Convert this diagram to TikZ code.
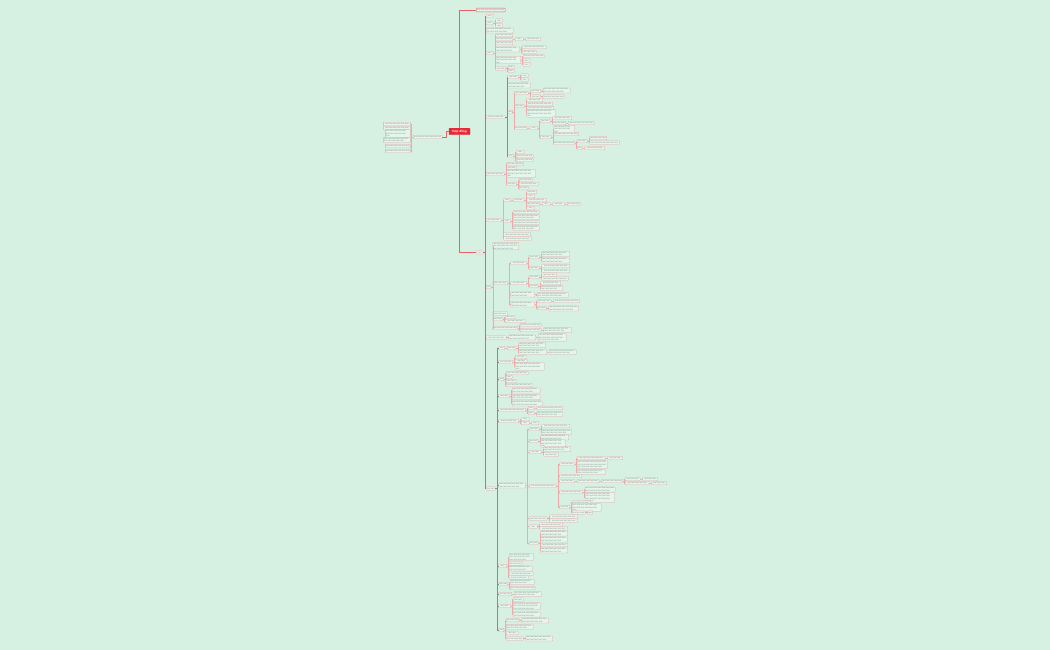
\documentclass[tikz,border=0pt]{standalone}
\usepackage{fontspec}
\setmainfont{Liberation Sans}
\definecolor{bg}{RGB}{214,241,226}
\definecolor{boxfill}{RGB}{228,246,236}
\definecolor{boxdraw}{RGB}{230,168,168}
\definecolor{txt}{RGB}{130,146,138}
\definecolor{redl}{RGB}{228,98,104}
\definecolor{pinkl}{RGB}{236,170,170}
\definecolor{greenl}{RGB}{120,150,130}
\definecolor{cred}{RGB}{232,40,52}
\tikzset{
 bx/.style={draw=boxdraw, fill=boxfill, line width=0.3pt, rounded corners=0.5pt,
   inner xsep=0.8pt, inner ysep=0.55pt, minimum height=3.6pt, anchor=west,
   text=txt, font=\fontsize{2.1pt}{2.45pt}\selectfont, align=left},
 cnode/.style={fill=cred, draw=cred, text=white, rounded corners=0.6pt,
   minimum width=21pt, minimum height=6.5pt, inner sep=0.8pt,
   font=\fontsize{3pt}{3.5pt}\selectfont\bfseries},
 lnr/.style={draw=redl, line width=0.4pt},
 lnp/.style={draw=pinkl, line width=0.3pt},
 lng/.style={draw=greenl, line width=0.35pt},
}
\newcommand\bxfill{\foreach\bxi in {1,...,\bxn}{text\ }\unskip}
\newcommand\bx[6][]{%
  \pgfmathtruncatemacro\bxcap{max(1,floor((#5-1.0)/4.0))}%
  \ifnum#6>1\relax
    \pgfmathtruncatemacro\bxn{max(1,#6*\bxcap-1)}%
    \pgfmathsetmacro\bxtw{#5-1.6}%
    \node[bx,text width=\bxtw pt,#1] (#2) at (#3,-#4) {\bxfill};%
  \else
    \edef\bxn{\bxcap}%
    \node[bx,minimum width=#5pt,#1] (#2) at (#3,-#4) {\bxfill};%
  \fi}
\newcommand\cns[3][lnp]{\foreach \cc in {#3}{\draw[#1] (#2.east) -- ++(1.4,0) |- (\cc.west);}}
\begin{document}
\begin{tikzpicture}[x=1pt,y=1pt]
\fill[bg] (0,0) rectangle (1050,-650);
\useasboundingbox (0,0) rectangle (1050,-650);

% centre
\node[cnode] (C) at (459.5,-131.5) {Hợp đồng};

% left branch
\bx{L}{413}{137}{29}{1}
\bx[anchor=east]{l1}{410.5}{124}{27}{1}
\bx[anchor=east]{l2}{410.5}{128}{27}{1}
\bx[anchor=east]{l3}{410.5}{133.5}{25}{2}
\bx[anchor=east]{l4}{410.5}{140}{27}{2}
\bx[anchor=east]{l5}{410.5}{146}{25}{1}
\bx[anchor=east]{l6}{410.5}{151}{25}{1}

% right level 1
\bx[draw=redl,line width=0.45pt]{T}{476}{10}{29}{1}
\bx{B}{476}{252.5}{7}{1}

% B children
\bx{b1}{486}{16}{7}{1}
\bx{b2}{486}{23}{7}{1}
\bx{b2a}{495.5}{20.5}{7}{1}
\bx{b2b}{495.5}{25.5}{7}{1}
\bx{b3}{486}{30.5}{27}{2}
\bx{b4}{486}{53}{7}{1}
\bx{c1}{495.5}{35}{17}{1}
\bx{c2}{495.5}{39}{17}{1}
\bx{c2a}{515}{39}{8}{1}
\bx{c2b}{525.5}{39}{15}{1}
\bx{c3}{495.5}{43}{17}{1}
\bx{c4}{495.5}{49.5}{24}{2}
\bx{c4a}{522}{47}{24}{1}
\bx{c4b}{522}{52}{14}{1}
\bx{c5}{495.5}{60}{25}{2}
\bx{c5a}{523}{56}{21}{1}
\bx{c5b}{523}{60.5}{7}{1}
\bx{c5c}{523}{64.5}{7}{1}
\bx{c6}{495.5}{68.5}{10}{1}
\bx{c6a}{508}{67}{6}{1}
\bx{c6b}{508}{71}{6}{1}

\bx{b5}{486}{117}{19}{1}
\bx{d1}{507.5}{77}{11}{1}
\bx{d1a}{521}{75.5}{7}{1}
\bx{d1b}{521}{79.5}{7}{1}
\bx{d2}{507.5}{85.5}{23}{2}
\bx{d3}{507.5}{112}{4}{1}
\bx{e1}{514}{93}{14}{1}
\bx{e1a}{530.5}{91}{10}{1}
\bx{e1a1}{543}{90.5}{27}{2}
\bx{e1b}{530.5}{96.5}{10}{1}
\bx{e1b1}{543}{96.5}{21}{1}
\bx{e2}{514}{106}{10}{1}
\bx{e2a}{526.5}{100}{16}{1}
\bx{e2b}{526.5}{104}{26}{1}
\bx{e2c}{526.5}{108}{27}{1}
\bx{e2d}{526.5}{113.5}{29}{2}
\bx{e3}{514}{128}{13}{1}
\bx{e3a}{529.5}{128}{8}{1}
\bx{f1}{540}{121}{10}{1}
\bx{f1a}{552.5}{118}{19}{1}
\bx{f1b}{552.5}{123}{13}{1}
\bx{f1b1}{568}{123}{26}{1}
\bx{f2}{540}{137}{11}{1}
\bx{f2a}{553.5}{129}{21}{2}
\bx{f2b}{553.5}{134}{25}{1}
\bx{f2c}{553.5}{143}{21}{1}
\bx{g1x}{577}{141}{10}{1}
\bx{g1xa}{589.5}{138}{17}{1}
\bx{g1xb}{589.5}{142.5}{30}{1}
\bx{g2x}{577}{148}{5}{1}
\bx{g2xa}{584.5}{148}{20}{1}
\bx{d4}{507.5}{156}{6}{1}
\bx{d4a}{516}{152}{8}{1}
\bx{d4b}{516}{156}{17}{1}
\bx{d4c}{516}{160}{17}{1}

\bx{b6}{486}{174}{18}{1}
\bx{h6a}{506.5}{164}{17}{1}
\bx{h6b}{506.5}{168}{10}{1}
\bx{h6c}{506.5}{173.5}{29}{2}
\bx{h6d}{506.5}{184}{10}{1}
\bx{h6d1}{519}{180}{13}{1}
\bx{h6d2}{519}{184}{19}{1}
\bx{h6d3}{519}{188}{9}{1}

\bx{b7}{486}{220}{15}{1}
\bx{g1}{503.5}{200}{7}{1}
\bx{g1a}{513}{200}{11}{1}
\bx{g1a1}{526.5}{192}{10}{1}
\bx{g1a2}{526.5}{196}{8}{1}
\bx{g1a3}{526.5}{200}{20}{1}
\bx{g1a4}{526.5}{204}{13}{1}
\bx{g1a4a}{542}{204}{8}{1}
\bx{g1a4b}{552.5}{204}{12}{1}
\bx{g1a4c}{567}{204}{13}{1}
\bx{g1a5}{526.5}{208}{8}{1}
\bx{g2}{503.5}{221}{7}{1}
\bx{g2a}{513}{212}{26}{1}
\bx{g2b}{513}{217}{26}{2}
\bx{g2c}{513}{222.5}{26}{1}
\bx{g2d}{513}{228}{26}{2}
\bx{g3}{503.5}{234.5}{27}{1}
\bx{g4}{503.5}{238.5}{28}{1}

\bx{b9}{486}{287}{4}{1}
\bx{b8}{492.5}{246}{26}{3}
\bx{h1}{492.5}{283}{15}{1}
\bx{h1a}{510.5}{263}{16}{1}
\bx{h1a1}{529}{257}{10}{1}
\bx{h1a1a}{541.5}{254}{28}{2}
\bx{h1a1b}{541.5}{260.5}{28}{2}
\bx{h1a2}{529}{268}{10}{1}
\bx{h1a2a}{541.5}{266}{28}{1}
\bx{h1a2b}{541.5}{271}{28}{1}
\bx{h1b}{510.5}{283}{16}{1}
\bx{h1b1}{529}{277}{10}{1}
\bx{h1b1a}{541.5}{274.5}{15}{1}
\bx{h1b1b}{541.5}{278.5}{27}{1}
\bx{h1b2}{529}{286}{9}{1}
\bx{h1b2a}{540.5}{283}{20}{1}
\bx{h1b2b}{540.5}{288}{22}{2}
\bx{h1c}{510.5}{294.5}{24}{2}
\bx{h1c1}{537}{295}{31}{2}
\bx{h1d}{510.5}{304.5}{24}{2}
\bx{h1d1}{537}{301}{14}{1}
\bx{h1d1a}{553.5}{301}{26}{1}
\bx{h1d2}{537}{308}{9}{1}
\bx{h1d2a}{548.5}{308.5}{30}{2}
\bx{h2}{492.5}{313.5}{15}{1}
\bx{h3}{492.5}{319}{10}{1}
\bx{h3a}{505}{317}{10}{1}
\bx{h3b}{505}{321}{20}{1}
\bx{h4}{492.5}{328}{25}{1}
\bx{h4a}{520}{325}{21}{1}
\bx{h4b}{520}{330}{21}{1}
\bx{h4b1}{543.5}{330}{28}{2}

\bx{b10}{486}{337.5}{20}{1}
\bx{b10a}{508.5}{337.5}{27}{2}
\bx{b10a1}{538}{337.5}{28}{3}

% lower trunk
\bx{b11}{486}{488.5}{9}{1}
\bx{k1}{498.5}{348}{6}{1}
\bx{k1a}{507}{348}{9}{1}
\bx{k1a1}{518.5}{345}{27}{2}
\bx{k1a2}{518.5}{352}{28}{2}
\bx{k1a2a}{549}{352}{27}{2}
\bx{k2}{498.5}{362}{14}{1}
\bx{k2a}{515}{357}{11}{1}
\bx{k2b}{515}{361}{12}{1}
\bx{k2c}{515}{366.5}{29}{2}
\bx{k3}{498.5}{379}{5}{1}
\bx{k3a}{506}{373}{22}{1}
\bx{k3b}{506}{377}{6}{1}
\bx{k3c}{506}{381}{10}{1}
\bx{k3d}{506}{385}{26}{1}
\bx{k4}{498.5}{396}{11}{1}
\bx{k4a}{512}{390.5}{28}{2}
\bx{k4b}{512}{397}{28}{2}
\bx{k4c}{512}{403.5}{30}{2}
\bx{k5}{498.5}{410}{27}{1}
\bx{k5a}{528}{408}{6}{1}
\bx{k5a1}{536.5}{408}{26}{1}
\bx{k5b}{528}{413}{6}{1}
\bx{k5b1}{536.5}{414}{26}{2}
\bx{k6}{498.5}{421}{20}{1}
\bx{k6a}{521}{419}{8}{1}
\bx{k6b}{521}{423}{8}{1}
\bx{k6b1}{531.5}{423}{7}{1}
\bx{k7}{498.5}{485.5}{27}{2}
\bx{m1}{529}{429}{10}{1}
\bx{m1a}{541.5}{426}{28}{1}
\bx{m1b}{541.5}{432}{30}{2}
\bx{m2}{529}{441}{9}{1}
\bx{m2a}{540.5}{437.5}{28}{2}
\bx{m2b}{540.5}{443.5}{25}{2}
\bx{m3}{529}{452}{12}{1}
\bx{m3a}{543.5}{449}{27}{2}
\bx{m3b}{543.5}{454.5}{15}{1}
\bx{m4}{529}{486}{27}{1}
\bx{n1}{559.5}{464}{15}{1}
\bx{n1a}{577}{458}{28}{1}
\bx{n1a1}{607.5}{458}{15}{1}
\bx{n1b}{577}{464.5}{30}{3}
\bx{n1c}{577}{472}{28}{2}
\bx{n2}{559.5}{476}{22}{1}
\bx{n3}{559.5}{481}{15}{1}
\bx{n3a}{577}{481}{22}{1}
\bx{n3b}{601.5}{481}{21}{1}
\bx{n3c}{625}{479}{15}{1}
\bx{n3c1}{642.5}{479}{15}{1}
\bx{n3d}{625}{483}{24}{1}
\bx{n3d1}{651.5}{483}{15}{1}
\bx{n4}{559.5}{492}{23}{1}
\bx{n4a}{585}{489.5}{30}{2}
\bx{n4b}{585}{497.5}{29}{3}
\bx{n5}{559.5}{507}{10}{1}
\bx{n5a}{572}{502.5}{18}{1}
\bx{n5b}{572}{507.5}{29}{2}
\bx{n5c}{572}{512.5}{13}{1}
\bx{n5c1}{587.5}{512.5}{5}{1}
\bx{m5}{529}{518.5}{18}{1}
\bx{m5a}{549.5}{516.5}{28}{1}
\bx{m5b}{549.5}{520.5}{28}{1}
\bx{m6}{529}{526.5}{8}{1}
\bx{m6a}{539.5}{524.5}{23}{1}
\bx{m6b}{539.5}{528.5}{28}{1}
\bx{m7}{529}{543}{9}{1}
\bx{m7a}{540.5}{533.5}{27}{2}
\bx{m7b}{540.5}{539.5}{27}{2}
\bx{m7c}{540.5}{545}{27}{1}
\bx{m7d}{540.5}{550.5}{27}{2}
\bx{k8}{498.5}{566}{8}{1}
\bx{k8a}{509}{557}{24}{3}
\bx{k8b}{509}{563.5}{13}{1}
\bx{k8c}{509}{568.5}{23}{2}
\bx{k8d}{509}{573.5}{24}{1}
\bx{k8e}{509}{577.5}{19}{1}
\bx{k9}{498.5}{584}{9}{1}
\bx{k9a}{510}{582}{24}{2}
\bx{k9b}{510}{588}{25}{1}
\bx{k10}{498.5}{594}{13}{1}
\bx{k10a}{514}{594}{27}{2}
\bx{k11}{498.5}{606}{12}{1}
\bx{k11a}{513}{599.5}{10}{1}
\bx{k11b}{513}{606}{27}{3}
\bx{k11c}{513}{614.5}{27}{2}
\bx{k12}{498.5}{630}{5}{1}
\bx{k12a}{506}{620}{13}{1}
\bx{k12a1}{521.5}{620.5}{27}{2}
\bx{k12b}{506}{627}{27}{2}
\bx{k12c}{506}{633}{12}{1}
\bx{k12d}{506}{638.5}{17}{1}
\bx{k12d1}{525.5}{638.5}{27}{2}

% connectors
\draw[lnr] (C.west) -- ++(-3,0) |- (L.east);
\draw[lnr] (C.north) |- (T.west);
\draw[lnr] (C.south) |- (B.west);
\foreach \cc in {l1,l2,l3,l4,l5,l6}{\draw[lnp] (L.west) -- ++(-1.4,0) |- (\cc.east);}

\cns[lnr]{B}{b1,b2,b3,b4,b5,b6,b7,b9,b10,b11}
\cns{b2}{b2a,b2b}
\cns{b4}{c1,c2,c3,c4,c5,c6}
\cns{c2}{c2a}\cns{c2a}{c2b}
\cns{c4}{c4a,c4b}
\cns{c5}{c5a,c5b,c5c}
\cns{c6}{c6a,c6b}
\cns[lng]{b5}{d1,d2,d3,d4}
\cns{d1}{d1a,d1b}
\cns{d3}{e1,e2,e3}
\cns{e1}{e1a,e1b}\cns{e1a}{e1a1}\cns{e1b}{e1b1}
\cns{e2}{e2a,e2b,e2c,e2d}
\cns{e3}{e3a}\cns{e3a}{f1,f2}
\cns{f1}{f1a,f1b}\cns{f1b}{f1b1}
\cns{f2}{f2a,f2b,f2c}\cns{f2c}{g1x,g2x}\cns{g1x}{g1xa,g1xb}\cns{g2x}{g2xa}
\cns{d4}{d4a,d4b,d4c}
\cns{b6}{h6a,h6b,h6c,h6d}\cns{h6d}{h6d1,h6d2,h6d3}
\cns{b7}{g1,g2,g3,g4}\cns{g1}{g1a}\cns{g1a}{g1a1,g1a2,g1a3,g1a4,g1a5}
\cns{g1a4}{g1a4a}\cns{g1a4a}{g1a4b}\cns{g1a4b}{g1a4c}
\cns{g2}{g2a,g2b,g2c,g2d}
\cns{b9}{b8,h1,h2,h3,h4}
\cns{h1}{h1a,h1b,h1c,h1d}
\cns{h1a}{h1a1,h1a2}\cns{h1a1}{h1a1a,h1a1b}\cns{h1a2}{h1a2a,h1a2b}
\cns{h1b}{h1b1,h1b2}\cns{h1b1}{h1b1a,h1b1b}\cns{h1b2}{h1b2a,h1b2b}
\cns{h1c}{h1c1}
\cns{h1d}{h1d1,h1d2}\cns{h1d1}{h1d1a}\cns{h1d2}{h1d2a}
\cns{h3}{h3a,h3b}
\cns{h4}{h4a,h4b}\cns{h4b}{h4b1}
\cns{b10}{b10a}\cns{b10a}{b10a1}
\cns[lng]{b11}{k1,k2,k3,k4,k5,k6,k7,k8,k9,k10,k11,k12}
\cns{k1}{k1a}\cns{k1a}{k1a1,k1a2}\cns{k1a2}{k1a2a}
\cns{k2}{k2a,k2b,k2c}
\cns{k3}{k3a,k3b,k3c,k3d}
\cns{k4}{k4a,k4b,k4c}
\cns{k5}{k5a,k5b}\cns{k5a}{k5a1}\cns{k5b}{k5b1}
\cns{k6}{k6a,k6b}\cns{k6b}{k6b1}
\cns{k7}{m1,m2,m3,m4,m5,m6,m7}
\cns{m1}{m1a,m1b}
\cns{m2}{m2a,m2b}
\cns{m3}{m3a,m3b}
\cns{m4}{n1,n2,n3,n4,n5}
\cns{n1}{n1a,n1b,n1c}\cns{n1a}{n1a1}
\cns{n3}{n3a}\cns{n3a}{n3b}\cns{n3b}{n3c,n3d}\cns{n3c}{n3c1}\cns{n3d}{n3d1}
\cns{n4}{n4a,n4b}
\cns{n5}{n5a,n5b,n5c}\cns{n5c}{n5c1}
\cns{m5}{m5a,m5b}
\cns{m6}{m6a,m6b}
\cns{m7}{m7a,m7b,m7c,m7d}
\cns{k8}{k8a,k8b,k8c,k8d,k8e}
\cns{k9}{k9a,k9b}
\cns{k10}{k10a}
\cns{k11}{k11a,k11b,k11c}
\cns{k12}{k12a,k12b,k12c,k12d}\cns{k12a}{k12a1}\cns{k12d}{k12d1}
\end{tikzpicture}
\end{document}
